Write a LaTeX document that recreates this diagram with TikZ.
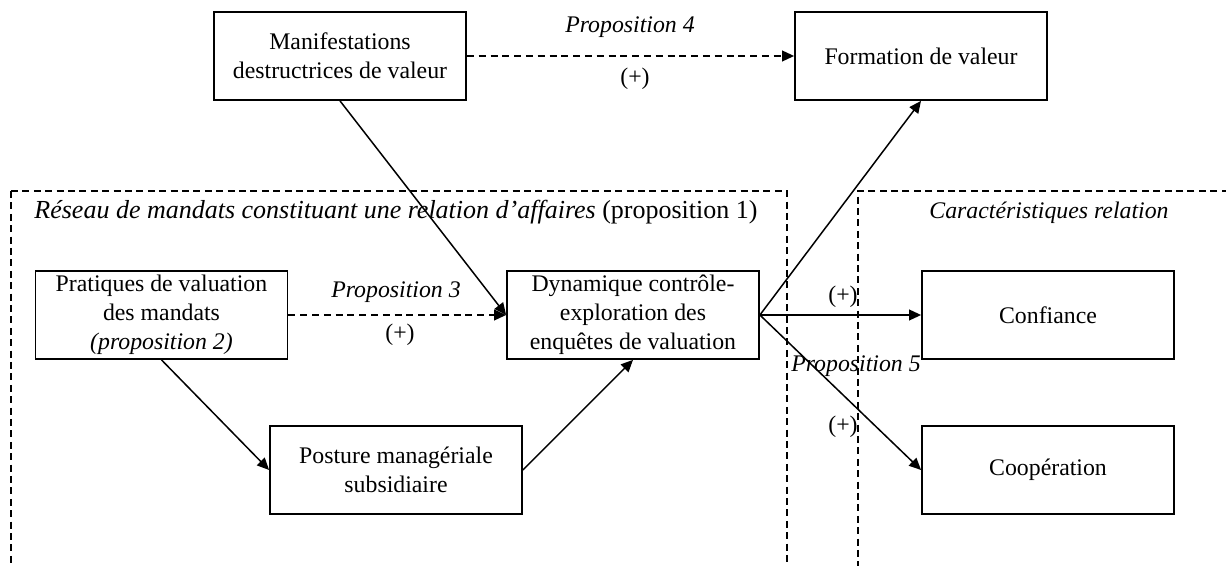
\documentclass[tikz,border=0pt]{standalone}
\usepackage{fontspec}
\setmainfont{Liberation Serif}
\usetikzlibrary{arrows.meta}

\begin{document}
\begin{tikzpicture}[x=0.5pt, y=-0.5pt,
    >={Triangle[length=6pt, width=5.4pt]},
    every node/.style={font=\fontsize{11.9}{14.5}\selectfont},
    box/.style={draw, line width=0.9pt, minimum width=126pt, minimum height=44pt, inner sep=0pt, align=center},
    link/.style={->, line width=0.75pt},
    dlink/.style={->, line width=0.75pt, dash pattern=on 3.5pt off 2.4pt},
    region/.style={line width=0.7pt, dash pattern=on 3.5pt off 2.2pt}]
            \useasboundingbox (0,0) rectangle (1226,566);
            % zones
            \draw[region] (11,191) -- (787,191) -- (787,580);
            \draw[region] (11,191) -- (11,580);
            \draw[region] (1240,191) -- (858,191) -- (858,580);
            \node[font=\fontsize{13}{15}\selectfont] (zone1) at (396,212) {\textit{Réseau de mandats constituant une relation d’affaires} (proposition 1)};
            \node (zone2) at (1049,213) {\textit{Caractéristiques relation}};

            \node[box] (manif) at (340,56) {Manifestations\\destructrices de valeur};
            \node[box] (form) at (921,56) {Formation de valeur};
            \node[box] (prat) at (161.5,315) {Pratiques de valuation\\des mandats\\\textit{(proposition 2)}};
            \node[box] (dyn) at (633,315) {Dynamique contrôle-\\exploration des\\enquêtes de valuation};
            \node[box] (post) at (396,470) {Posture managériale\\subsidiaire};
            \node[box] (conf) at (1048,315) {Confiance};
            \node[box] (coop) at (1048,470) {Coopération};

            \draw[dlink] (manif) -- (form);
            \draw[dlink] (prat) -- (dyn);
            \draw[link] (manif.south) -- (dyn.west);
            \draw[link] (prat.south) -- (post.west);
            \draw[link] (post.east) -- (dyn.south);
            \draw[link] (dyn.east) -- (form.south);
            \draw[link] (dyn.east) -- (conf.west);
            \draw[link] (dyn.east) -- (coop.west);

            \node (p4) at (630,27) {\textit{Proposition 4}};
            \node (s4) at (635,79) {(+)};
            \node (p3) at (396,292) {\textit{Proposition 3}};
            \node (s3) at (400,335) {(+)};
            \node (sc) at (843,297) {(+)};
            \node (p5) at (856,366) {\textit{Proposition 5}};
            \node (sk) at (843,427) {(+)};

        \end{tikzpicture}
\end{document}
